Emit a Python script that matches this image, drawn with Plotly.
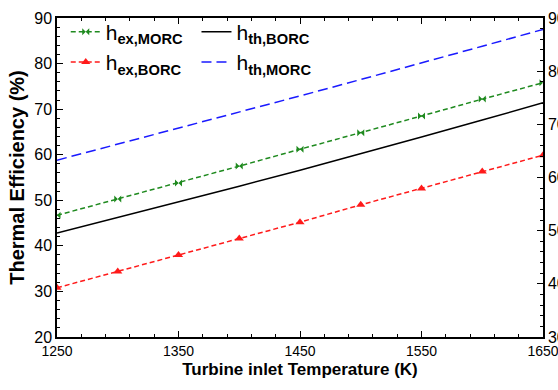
import plotly.graph_objects as go

# Turbine inlet temperature (K)
temperature = [1250, 1300, 1350, 1400, 1450, 1500, 1550, 1600, 1650]

# Efficiencies (%)
eta_ex_morc = [46.7, 50.3, 53.8, 57.5, 61.2, 64.8, 68.5, 72.2, 75.8]
eta_ex_borc = [30.8, 34.4, 38.0, 41.6, 45.2, 49.0, 52.6, 56.3, 59.9]
eta_th_borc = [42.8, 46.2, 49.6, 53.1, 56.6, 60.2, 63.9, 67.6, 71.4]
eta_th_morc = [58.8, 62.3, 65.8, 69.4, 72.9, 76.5, 80.1, 83.8, 87.5]

FONT = "Arial, Liberation Sans, sans-serif"

fig = go.Figure()

fig.add_trace(go.Scatter(
    x=temperature, y=eta_ex_morc, mode="lines+markers",
    name="h<sub><b>ex,MORC</b></sub>", legend="legend",
    line=dict(color="#1f8a1f", width=1.5, dash="5px,3px"),
    marker=dict(symbol="bowtie", size=7, color="#1f8a1f"),
))
fig.add_trace(go.Scatter(
    x=temperature, y=eta_ex_borc, mode="lines+markers",
    name="h<sub><b>ex,BORC</b></sub>", legend="legend",
    line=dict(color="#ff1a1a", width=1.5, dash="5px,3px"),
    marker=dict(symbol="triangle-up", size=8, color="#ff1a1a"),
))
fig.add_trace(go.Scatter(
    x=temperature, y=eta_th_borc, mode="lines",
    name="h<sub><b>th,BORC</b></sub>", legend="legend2",
    line=dict(color="black", width=1.5),
))
fig.add_trace(go.Scatter(
    x=temperature, y=eta_th_morc, mode="lines",
    name="h<sub><b>th,MORC</b></sub>", legend="legend2",
    line=dict(color="#1a1aff", width=1.5, dash="10px,5px"),
))
# anchor trace for the secondary (right) axis
fig.add_trace(go.Scatter(
    x=[temperature[0]], y=[30], yaxis="y2", mode="markers",
    marker=dict(opacity=0), showlegend=False, hoverinfo="skip",
))

x_tick_font = dict(family=FONT, size=14, color="black")
y_tick_font = dict(family=FONT, size=16, color="black")
minor = dict(ticks="inside", ticklen=3, tickcolor="black", tickwidth=1)

leg_common = dict(
    bgcolor="rgba(0,0,0,0)", borderwidth=0,
    font=dict(family=FONT, size=21, color="black"),
    yanchor="top", xanchor="left", itemwidth=30,
)

fig.update_layout(
    width=558, height=390,
    margin=dict(l=57, r=15, t=15, b=53),
    paper_bgcolor="white", plot_bgcolor="white",
    showlegend=True,
    xaxis=dict(
        range=[1250, 1650], tickmode="array",
        tickvals=[1250, 1350, 1450, 1550, 1650],
        ticks="inside", ticklen=6, tickcolor="black", tickwidth=1,
        minor=dict(dtick=20, tick0=1250, **minor),
        showline=True, linecolor="black", linewidth=1.5, mirror="ticks",
        showgrid=False, zeroline=False, tickfont=x_tick_font,
        ticklabeloverflow="allow", automargin=False,
        title=dict(text="<b>Turbine inlet Temperature (K)</b>",
                   font=dict(family=FONT, size=17, color="black"), standoff=6),
    ),
    yaxis=dict(
        range=[20, 90], dtick=10,
        ticks="inside", ticklen=6, tickcolor="black", tickwidth=1,
        minor=dict(dtick=2, **minor),
        showline=True, linecolor="black", linewidth=1.5,
        showgrid=False, zeroline=False, tickfont=y_tick_font,
        automargin=False,
        title=dict(text="<b>Thermal Efficiency (%)</b>",
                   font=dict(family=FONT, size=20, color="black"), standoff=4),
    ),
    yaxis2=dict(
        range=[30, 90], dtick=10, overlaying="y", side="right",
        ticks="inside", ticklen=6, tickcolor="black", tickwidth=1,
        minor=dict(dtick=2, **minor),
        showline=True, linecolor="black", linewidth=1.5,
        showgrid=False, zeroline=False, tickfont=y_tick_font,
        automargin=False, ticklabeloverflow="allow",
    ),
    legend=dict(x=0.018, y=1.02, **leg_common),
    legend2=dict(x=0.287, y=1.02, **leg_common),
)

fig.write_html("out.html")
